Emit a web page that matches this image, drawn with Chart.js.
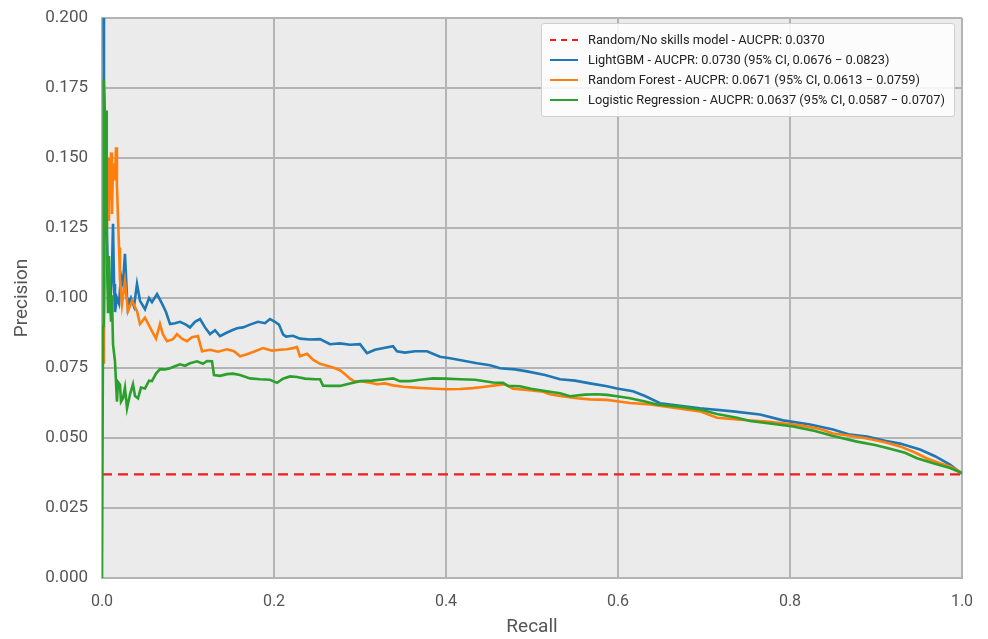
<!DOCTYPE html>
<html>
<head>
<meta charset="utf-8">
<script src="https://cdn.jsdelivr.net/npm/chart.js@4"></script>
<style>
  body { margin: 0; background: #fff; }
  #wrap { position: relative; width: 988px; height: 639px; }
  #legendBox {
    position: absolute; left: 541px; top: 23px; width: 412px; height: 92px;
    background: rgba(255,255,255,0.85); border: 1px solid #cfcfcf; border-radius: 3px;
    font-family: Roboto, sans-serif; font-size: 12.8px; color: #222;
  }
  .row { position: absolute; left: 0; height: 20px; line-height: 20px; white-space: nowrap; }
  .swatch { position: absolute; left: 8px; top: 9px; width: 28px; height: 0; border-top: 2.5px solid; }
  .row span { position: absolute; left: 46px; }
</style>
</head>
<body>
<div id="wrap">
  <canvas id="prChart"></canvas>
  <div id="legendBox"></div>
</div>
<script>
// no skill baseline
let noSkillRecall = [0, 1];
let noSkillPrecision = [0.037, 0.037];

// LightGBM
let lgbmRecall = [0.0012, 0.0023, 0.0035, 0.0047, 0.007, 0.0093, 0.0116, 0.0128, 0.014, 0.0151, 0.0174, 0.0198, 0.0221, 0.0244, 0.0267, 0.0291, 0.0302, 0.0337, 0.0372, 0.0407, 0.0442, 0.05, 0.0547, 0.0581, 0.064, 0.0698, 0.0744, 0.0791, 0.0849, 0.0907, 0.0977, 0.1023, 0.1081, 0.114, 0.1198, 0.1256, 0.1314, 0.1372, 0.1442, 0.1512, 0.157, 0.164, 0.1721, 0.1814, 0.1895, 0.1953, 0.2012, 0.2058, 0.2105, 0.214, 0.2221, 0.2302, 0.2419, 0.2535, 0.2651, 0.2767, 0.2884, 0.3, 0.3081, 0.3174, 0.3291, 0.3384, 0.343, 0.3523, 0.364, 0.3779, 0.393, 0.4047, 0.4221, 0.436, 0.4512, 0.4628, 0.4802, 0.4942, 0.5151, 0.5326, 0.55, 0.5674, 0.5872, 0.5988, 0.6174, 0.6314, 0.6488, 0.6721, 0.6953, 0.7337, 0.7651, 0.7919, 0.8233, 0.85, 0.8698, 0.8895, 0.9105, 0.9279, 0.9512, 0.9686, 0.986, 1.0];
let lgbmPrecision = [0.25, 0.175, 0.152, 0.14, 0.105, 0.095, 0.11, 0.1265, 0.105, 0.095, 0.1, 0.098, 0.108, 0.105, 0.1158, 0.1, 0.097, 0.1, 0.097, 0.105, 0.099, 0.096, 0.1, 0.0985, 0.1014, 0.098, 0.095, 0.0907, 0.091, 0.0915, 0.0905, 0.0895, 0.0915, 0.0925, 0.0895, 0.0871, 0.0885, 0.0864, 0.0875, 0.0885, 0.0892, 0.0895, 0.0905, 0.0915, 0.091, 0.0925, 0.0915, 0.0905, 0.087, 0.0862, 0.0865, 0.0855, 0.0852, 0.0853, 0.0835, 0.0838, 0.0833, 0.0835, 0.0803, 0.0815, 0.0822, 0.0828, 0.081, 0.0805, 0.081, 0.081, 0.079, 0.0785, 0.0775, 0.0767, 0.076, 0.0749, 0.0745, 0.0738, 0.0725, 0.071, 0.0705, 0.0695, 0.0685, 0.0677, 0.0667, 0.065, 0.0624, 0.0615, 0.0606, 0.0595, 0.0584, 0.0563, 0.0548, 0.053, 0.0512, 0.0505, 0.049, 0.048, 0.0459, 0.0435, 0.0405, 0.0372];

// Random Forest
let rfRecall = [0.0012, 0.0023, 0.0035, 0.0047, 0.0058, 0.007, 0.0081, 0.0093, 0.0105, 0.0116, 0.0128, 0.0151, 0.0163, 0.0174, 0.0186, 0.0198, 0.0209, 0.0233, 0.0267, 0.0302, 0.0349, 0.0407, 0.0442, 0.05, 0.0581, 0.0628, 0.0674, 0.0709, 0.0756, 0.0826, 0.0872, 0.093, 0.0988, 0.1047, 0.1116, 0.1163, 0.1256, 0.1349, 0.1453, 0.1535, 0.1605, 0.1686, 0.1779, 0.1872, 0.1919, 0.1977, 0.207, 0.2151, 0.2221, 0.2267, 0.2302, 0.2384, 0.2453, 0.2535, 0.2616, 0.2686, 0.2767, 0.2826, 0.2884, 0.293, 0.3023, 0.3116, 0.3198, 0.3291, 0.3384, 0.35, 0.364, 0.3814, 0.4012, 0.4163, 0.4314, 0.4453, 0.457, 0.4686, 0.4779, 0.4942, 0.5128, 0.5209, 0.5326, 0.5523, 0.5674, 0.5872, 0.5988, 0.614, 0.6372, 0.6605, 0.6953, 0.7151, 0.7419, 0.7733, 0.8116, 0.8349, 0.85, 0.8698, 0.8895, 0.9105, 0.9279, 0.9453, 0.9593, 0.9744, 0.986, 1.0];
let rfPrecision = [0.077, 0.09, 0.11, 0.125, 0.14, 0.128, 0.15, 0.135, 0.152, 0.13, 0.148, 0.142, 0.1538, 0.14, 0.1287, 0.118, 0.107, 0.0978, 0.106, 0.0953, 0.099, 0.0953, 0.0907, 0.093, 0.0882, 0.0855, 0.0907, 0.087, 0.0846, 0.0853, 0.0871, 0.0855, 0.0846, 0.086, 0.0864, 0.081, 0.0815, 0.0808, 0.0817, 0.081, 0.0792, 0.0799, 0.081, 0.0821, 0.0817, 0.0812, 0.0815, 0.0817, 0.0821, 0.0825, 0.0792, 0.0801, 0.078, 0.0765, 0.0758, 0.0752, 0.0742, 0.0728, 0.0712, 0.0703, 0.0702, 0.0697, 0.0692, 0.0695, 0.0688, 0.0683, 0.068, 0.0677, 0.0674, 0.0675, 0.0678, 0.0683, 0.0688, 0.0692, 0.0676, 0.0672, 0.0665, 0.0656, 0.065, 0.0642, 0.0638, 0.0636, 0.0631, 0.0625, 0.062, 0.061, 0.0595, 0.0572, 0.0565, 0.0559, 0.0545, 0.0532, 0.0516, 0.0508, 0.0498, 0.0485, 0.047, 0.0448, 0.0427, 0.041, 0.0398, 0.0375];

// Logistic Regression
let lrRecall = [0, 0.0012, 0.0017, 0.0023, 0.0035, 0.0047, 0.0052, 0.0058, 0.007, 0.0081, 0.0093, 0.0105, 0.0116, 0.0128, 0.0151, 0.0174, 0.0186, 0.0209, 0.0221, 0.0244, 0.0267, 0.0291, 0.0326, 0.036, 0.0384, 0.0419, 0.0453, 0.05, 0.0547, 0.0581, 0.0628, 0.0674, 0.0733, 0.0791, 0.0849, 0.0907, 0.0965, 0.1023, 0.1105, 0.1174, 0.1221, 0.1279, 0.1302, 0.1372, 0.1453, 0.1523, 0.1605, 0.1721, 0.1837, 0.1953, 0.2035, 0.2105, 0.2186, 0.2267, 0.236, 0.2477, 0.2535, 0.257, 0.2651, 0.2767, 0.2884, 0.3, 0.314, 0.3291, 0.3384, 0.3465, 0.3581, 0.3698, 0.3849, 0.3988, 0.4163, 0.4337, 0.4547, 0.4663, 0.4721, 0.486, 0.4988, 0.5151, 0.5326, 0.5442, 0.5616, 0.5756, 0.5872, 0.5988, 0.614, 0.6314, 0.6453, 0.6721, 0.6953, 0.7151, 0.7384, 0.7535, 0.7767, 0.8035, 0.8291, 0.85, 0.8779, 0.8988, 0.9163, 0.9337, 0.9477, 0.9686, 0.986, 1.0];
let lrPrecision = [0.0, 0.09, 0.13, 0.178, 0.165, 0.125, 0.167, 0.119, 0.095, 0.115, 0.1, 0.092, 0.101, 0.0835, 0.0774, 0.063, 0.07, 0.069, 0.063, 0.0642, 0.068, 0.0606, 0.0656, 0.0692, 0.065, 0.0642, 0.068, 0.0677, 0.0705, 0.0703, 0.073, 0.0746, 0.0745, 0.0749, 0.0756, 0.0763, 0.0758, 0.0767, 0.0774, 0.0765, 0.0775, 0.0774, 0.0725, 0.0722, 0.0728, 0.073, 0.0725, 0.0713, 0.071, 0.0708, 0.0697, 0.0712, 0.072, 0.0718, 0.0712, 0.071, 0.071, 0.0687, 0.0686, 0.0686, 0.0695, 0.0703, 0.0705, 0.071, 0.0713, 0.0703, 0.0703, 0.0708, 0.0713, 0.0712, 0.071, 0.0708, 0.0698, 0.0697, 0.0686, 0.0685, 0.0676, 0.0668, 0.066, 0.0649, 0.0655, 0.0656, 0.0654, 0.0649, 0.0642, 0.063, 0.062, 0.0612, 0.0602, 0.0586, 0.0572, 0.0561, 0.0552, 0.0541, 0.0525, 0.0507, 0.0487, 0.0475, 0.0462, 0.0447, 0.0428, 0.0408, 0.0393, 0.0375];

let yTicks = [0, 0.025, 0.05, 0.075, 0.1, 0.125, 0.15, 0.175, 0.2];
let xTicks = [0, 0.2, 0.4, 0.6, 0.8, 1.0];

let labels = [
  'Random/No skills model - AUCPR: 0.0370',
  'LightGBM - AUCPR: 0.0730 (95% CI, 0.0676 \u2212 0.0823)',
  'Random Forest - AUCPR: 0.0671 (95% CI, 0.0613 \u2212 0.0759)',
  'Logistic Regression - AUCPR: 0.0637 (95% CI, 0.0587 \u2212 0.0707)'
];
let colors = ['#ee1c1c', '#1f77b4', '#ff7f0e', '#2ca02c'];

function toPoints(xs, ys) {
  return xs.map(function (x, i) { return {x: x, y: ys[i]}; });
}

let gridColor = '#b4b4b4';
let tickColor = '#555';

let plotBg = {
  id: 'plotBg',
  beforeDraw: function (chart) {
    let a = chart.chartArea;
    let c = chart.ctx;
    c.save();
    c.fillStyle = '#ebebeb';
    c.fillRect(a.left, a.top, a.right - a.left, a.bottom - a.top);
    c.restore();
  }
};

let ctx = document.getElementById('prChart').getContext('2d');
let prChart = new Chart(ctx, {
  type: 'line',
  data: {
    datasets: [
      {label: labels[0], data: toPoints(noSkillRecall, noSkillPrecision), borderColor: colors[0], borderDash: [10, 6], borderWidth: 2.4, order: 3},
      {label: labels[1], data: toPoints(lgbmRecall, lgbmPrecision), borderColor: colors[1], borderWidth: 2.6, order: 2},
      {label: labels[2], data: toPoints(rfRecall, rfPrecision), borderColor: colors[2], borderWidth: 2.6, order: 1},
      {label: labels[3], data: toPoints(lrRecall, lrPrecision), borderColor: colors[3], borderWidth: 2.6, order: 0}
    ]
  },
  options: {
    responsive: true,
    maintainAspectRatio: false,
    animation: false,
    elements: {point: {radius: 0}, line: {tension: 0}},
    layout: {padding: {left: 0, right: 26, top: 18, bottom: 0}},
    plugins: {legend: {display: false}, tooltip: {enabled: false}},
    scales: {
      x: {
        type: 'linear',
        min: 0,
        max: 1,
        afterFit: function (s) { s.height = 61; },
        afterBuildTicks: function (s) { s.ticks = xTicks.map(function (v) { return {value: v}; }); },
        grid: {color: gridColor, lineWidth: 2, drawTicks: false},
        border: {color: gridColor, width: 2},
        ticks: {
          color: tickColor, padding: 14,
          font: {family: 'Roboto', size: 16},
          callback: function (v) { return v.toFixed(1); }
        },
        title: {display: true, text: 'Recall', color: tickColor, font: {family: 'Roboto', size: 19}, padding: {top: 0, bottom: 0}}
      },
      y: {
        min: 0,
        max: 0.2,
        afterFit: function (s) { s.width = 102; s.paddingTop = 0; s.paddingBottom = 0; },
        afterBuildTicks: function (s) { s.ticks = yTicks.map(function (v) { return {value: v}; }); },
        grid: {color: gridColor, lineWidth: 2, drawTicks: false},
        border: {color: gridColor, width: 2},
        ticks: {
          color: tickColor, padding: 14,
          font: {family: 'Roboto', size: 17},
          callback: function (v) { return v.toFixed(3); }
        },
        title: {display: true, text: 'Precision', color: tickColor, font: {family: 'Roboto', size: 19}, padding: {top: 11, bottom: 0}}
      }
    }
  },
  plugins: [plotBg]
});

// legend box inside the plot
let box = document.getElementById('legendBox');
labels.forEach(function (txt, i) {
  let row = document.createElement('div');
  row.className = 'row';
  row.style.top = (6 + i * 20) + 'px';
  row.style.width = '100%';
  let sw = document.createElement('div');
  sw.className = 'swatch';
  sw.style.borderTopColor = colors[i];
  if (i === 0) sw.style.borderTopStyle = 'dashed';
  let t = document.createElement('span');
  t.textContent = txt;
  row.appendChild(sw);
  row.appendChild(t);
  box.appendChild(row);
});
</script>
</body>
</html>
